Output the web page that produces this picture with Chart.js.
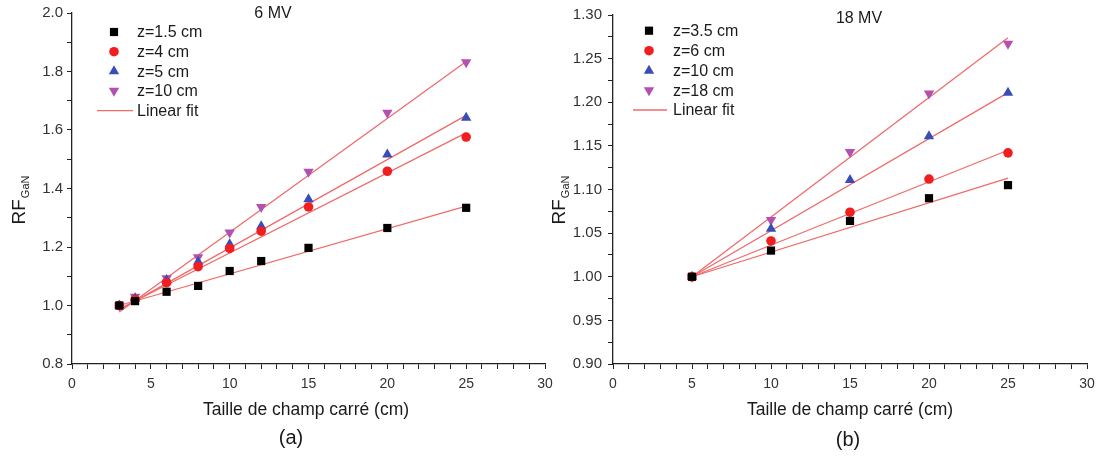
<!DOCTYPE html>
<html>
<head>
<meta charset="utf-8">
<script src="https://cdn.jsdelivr.net/npm/chart.js@4"></script>
<style>
  html, body { margin: 0; padding: 0; background: #fff; }
  #wrap { position: relative; width: 1109px; height: 459px; overflow: hidden; }
  canvas { position: absolute; top: 0; }
  #c1 { left: 0; }
  #c2 { left: 540px; }
</style>
</head>
<body>
<div id="wrap">
  <canvas id="c1" width="560" height="459"></canvas>
  <canvas id="c2" width="569" height="459"></canvas>
</div>
<script>
// ---------- Data: panel (a) 6 MV ----------
const xA = [3, 4, 6, 8, 10, 12, 15, 20, 25];
const a_z15 = [1.000, 1.015, 1.047, 1.067, 1.118, 1.152, 1.197, 1.265, 1.334];
const a_z4  = [1.000, 1.020, 1.078, 1.133, 1.195, 1.254, 1.337, 1.459, 1.576];
const a_z5  = [1.000, 1.025, 1.087, 1.150, 1.209, 1.271, 1.363, 1.516, 1.642];
const a_z10 = [1.000, 1.030, 1.093, 1.165, 1.250, 1.337, 1.457, 1.659, 1.832];
const a_fitX = [3, 25];
const a_fit15 = [1.000, 1.340];
const a_fit4  = [0.988, 1.590];
const a_fit5  = [0.985, 1.650];
const a_fit10 = [0.978, 1.834];
const a_labels = ['z=1.5 cm', 'z=4 cm', 'z=5 cm', 'z=10 cm', 'Linear fit'];

// ---------- Data: panel (b) 18 MV ----------
const xB = [5, 10, 15, 20, 25];
const b_z35 = [1.000, 1.030, 1.064, 1.090, 1.105];
const b_z6  = [1.000, 1.041, 1.074, 1.112, 1.142];
const b_z10 = [1.000, 1.055, 1.111, 1.161, 1.211];
const b_z18 = [1.000, 1.065, 1.143, 1.210, 1.267];
const b_fitX = [5, 25];
const b_fit35 = [1.000, 1.113];
const b_fit6  = [1.000, 1.145];
const b_fit10 = [1.000, 1.211];
const b_fit18 = [1.000, 1.274];
const b_labels = ['z=3.5 cm', 'z=6 cm', 'z=10 cm', 'z=18 cm', 'Linear fit'];

// x tick labels shown every 5 units
const xTickLabels = ['0', '5', '10', '15', '20', '25', '30'];

// ---------- Styles ----------
const FONT = "'Liberation Sans', Arial, sans-serif";
const COL = ['#000000', '#f01e1e', '#3a4cb8', '#b450b0'];
const STYLE = ['rect', 'circle', 'triangle', 'triangle'];
const ROT = [0, 0, 0, 180];
const RAD = [5.8, 4.8, 6, 6];
const FITCOL = '#f06a6a';

function pts(xs, ys) { return xs.map((x, i) => ({ x: x, y: ys[i] })); }

function makeDatasets(xs, series, fitX, fits) {
  const ds = [];
  series.forEach((s, i) => {
    ds.push({
      type: 'scatter',
      data: pts(xs, s),
      pointStyle: STYLE[i], rotation: ROT[i], pointRadius: RAD[i],
      pointBackgroundColor: COL[i], pointBorderColor: COL[i], pointBorderWidth: 0,
      showLine: false, order: 1
    });
  });
  fits.forEach((f) => {
    ds.push({
      type: 'line',
      data: pts(fitX, f),
      borderColor: FITCOL, borderWidth: 1.3, pointRadius: 0,
      fill: false, tension: 0, order: 2
    });
  });
  return ds;
}

function drawMarker(ctx, i, x, y) {
  const opts = { pointStyle: STYLE[i], rotation: ROT[i], radius: RAD[i], borderWidth: 0 };
  ctx.save();
  ctx.fillStyle = COL[i];
  ctx.strokeStyle = COL[i];
  ctx.lineWidth = 0;
  if (Chart.helpers && Chart.helpers.drawPoint) {
    Chart.helpers.drawPoint(ctx, opts, x, y);
  } else {
    ctx.beginPath();
    ctx.arc(x, y, RAD[i], 0, Math.PI * 2);
    ctx.fill();
  }
  ctx.restore();
}

function decoPlugin(cfg) {
  return {
    id: 'deco',
    afterDraw(chart) {
      const ctx = chart.ctx;
      ctx.save();
      ctx.fillStyle = '#1a1a1a';
      // Title
      ctx.font = '16px ' + FONT;
      ctx.textAlign = 'center';
      ctx.textBaseline = 'middle';
      ctx.fillText(cfg.title, cfg.titleX, cfg.titleY);
      // Legend
      ctx.font = '16px ' + FONT;
      ctx.textAlign = 'left';
      cfg.labels.forEach((lab, i) => {
        const y = cfg.legRows[i];
        if (i < 4) {
          drawMarker(ctx, i, cfg.legMarkX, y);
        } else {
          ctx.save();
          ctx.strokeStyle = FITCOL;
          ctx.lineWidth = 1.3;
          ctx.beginPath();
          ctx.moveTo(cfg.legLine[0], y);
          ctx.lineTo(cfg.legLine[1], y);
          ctx.stroke();
          ctx.restore();
        }
        ctx.fillStyle = '#1a1a1a';
        ctx.fillText(lab, cfg.legTextX, y + 1);
      });
      // X axis title
      ctx.textAlign = 'center';
      ctx.font = '17.5px ' + FONT;
      ctx.fillText('Taille de champ carré (cm)', cfg.xtX, cfg.xtY);
      // Panel letter
      ctx.font = '20px ' + FONT;
      ctx.fillText(cfg.panel, cfg.panelX, cfg.panelY);
      // Y axis title RF_GaN
      ctx.translate(cfg.ytX, cfg.ytY);
      ctx.rotate(-Math.PI / 2);
      ctx.textAlign = 'left';
      ctx.textBaseline = 'middle';
      ctx.font = '19px ' + FONT;
      const w1 = ctx.measureText('RF').width;
      ctx.font = '11px ' + FONT;
      const w2 = ctx.measureText('GaN').width;
      const start = -(w1 + w2 + 1) / 2;
      ctx.font = '19px ' + FONT;
      ctx.fillText('RF', start, 0);
      ctx.font = '11px ' + FONT;
      ctx.fillText('GaN', start + w1 + 1, 6);
      ctx.restore();
    }
  };
}

function makeChart(id, datasets, yMin, yMax, yStep, yMajorEvery, yDec, yWidth, yPad, rightPad, cfg) {
  return new Chart(document.getElementById(id), {
    data: { datasets: datasets },
    options: {
      responsive: false,
      animation: false,
      layout: { padding: { left: 0, right: rightPad, top: 12, bottom: 0 } },
      plugins: { legend: { display: false }, tooltip: { enabled: false }, title: { display: false } },
      scales: {
        x: {
          type: 'linear', position: 'bottom', min: 0, max: 30,
          grid: { drawOnChartArea: false, drawTicks: true, tickLength: 5, color: '#222', tickWidth: 1 },
          border: { display: true, color: '#222', width: 1.3 },
          ticks: {
            stepSize: 1, autoSkip: false, maxRotation: 0, padding: 7, maxTicksLimit: 100,
            color: '#333', font: { family: FONT, size: 14 },
            callback: (v, idx) => (idx % 5 === 0 ? (xTickLabels[idx / 5] || '') : '')
          },
          afterFit: (s) => { s.height = 95; }
        },
        y: {
          type: 'linear', position: 'left', min: yMin, max: yMax,
          grid: { drawOnChartArea: false, drawTicks: true, tickLength: 5, color: '#222', tickWidth: 1 },
          border: { display: true, color: '#222', width: 1.3 },
          ticks: {
            stepSize: yStep, autoSkip: false, padding: yPad, maxTicksLimit: 100,
            color: '#333', font: { family: FONT, size: 15 },
            callback: (v) => {
              const k = Math.round((v - yMin) / yStep);
              return (k % yMajorEvery === 0) ? Number(v).toFixed(yDec) : '';
            }
          },
          afterFit: (s) => { s.width = yWidth; }
        }
      }
    },
    plugins: [decoPlugin(cfg)]
  });
}

makeChart('c1',
  makeDatasets(xA, [a_z15, a_z4, a_z5, a_z10], a_fitX, [a_fit15, a_fit4, a_fit5, a_fit10]),
  0.8, 2.0, 0.1, 2, 1, 72, 4, 15,
  {
    title: '6 MV', titleX: 273, titleY: 14,
    labels: a_labels, legRows: [32, 51.7, 71.3, 90.7, 110.7],
    legMarkX: 114, legTextX: 137, legLine: [97, 133],
    xtX: 306, xtY: 410.5, panel: '(a)', panelX: 291, panelY: 438,
    ytX: 20, ytY: 200
  });

makeChart('c2',
  makeDatasets(xB, [b_z35, b_z6, b_z10, b_z18], b_fitX, [b_fit35, b_fit6, b_fit10, b_fit18]),
  0.9, 1.3, 0.025, 2, 2, 73, 6, 22,
  {
    title: '18 MV', titleX: 319, titleY: 19,
    labels: b_labels, legRows: [30.7, 50.7, 70.7, 90.3, 110],
    legMarkX: 109, legTextX: 133, legLine: [93, 127],
    xtX: 310, xtY: 410, panel: '(b)', panelX: 308, panelY: 440,
    ytX: 20, ytY: 200
  });
</script>
</body>
</html>
